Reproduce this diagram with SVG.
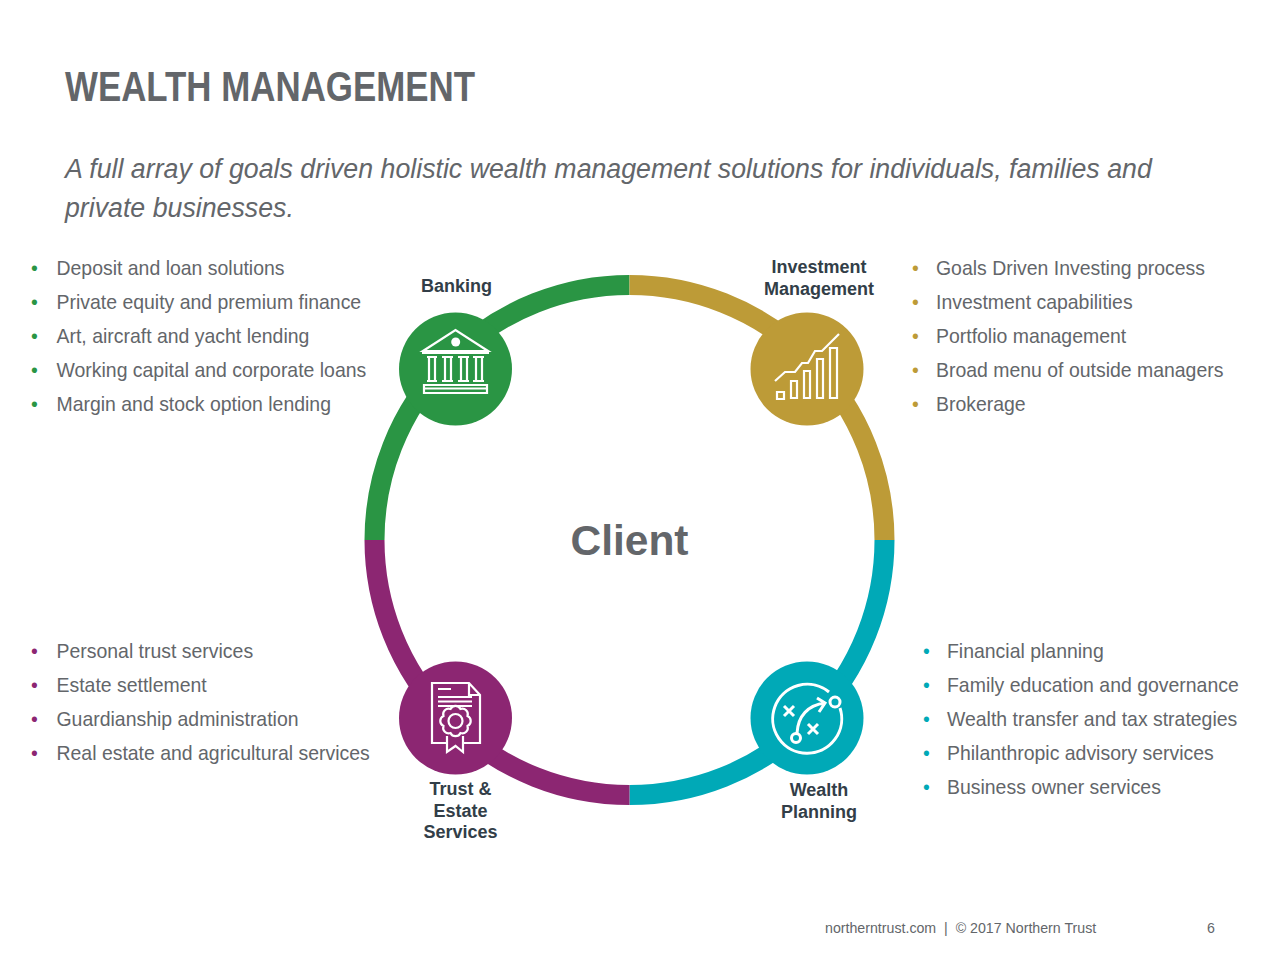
<svg xmlns="http://www.w3.org/2000/svg" width="1280" height="960" viewBox="0 0 1280 960">
<style>
text{font-family:"Liberation Sans",Arial,sans-serif;fill:#63666a}
.b text{font-size:19.45px}
.l{font-size:18px;font-weight:bold;fill:#323e48;text-anchor:middle}
.ring{fill:none;stroke-width:20}
.i{fill:none;stroke:#fff;stroke-width:2.2}
.i2{fill:none;stroke:#fff;stroke-width:3}
.f{font-size:14.2px}
</style>
<rect width="1280" height="960" fill="#fff"/>
<text id="title" x="65" y="101" font-size="43" font-weight="bold" textLength="410" lengthAdjust="spacingAndGlyphs">WEALTH MANAGEMENT</text>
<text x="65" y="178" font-size="26.74" font-style="italic">A full array of goals driven holistic wealth management solutions for individuals, families and</text>
<text x="65" y="217" font-size="26.74" font-style="italic">private businesses.</text>
<g id="connectors">
<path class="ring" stroke="#2a9544" d="M374.5 540A255 255 0 0 1 629.5 285"/>
<path class="ring" stroke="#bd9b37" d="M629.5 285A255 255 0 0 1 884.5 540"/>
<path class="ring" stroke="#00a9b7" d="M884.5 540A255 255 0 0 1 629.5 795"/>
<path class="ring" stroke="#8c2672" d="M629.5 795A255 255 0 0 1 374.5 540"/>
</g>
<g id="banking">
<circle cx="455.5" cy="369" r="56.5" fill="#2a9544"/>
<path class="i" d="M423 351L455.5 330L488 351ZM422 353H489M427 357H437M442 357H453M458 357H469M473 357H484M427 381H437M442 381H453M458 381H469M473 381H484M429 358V380M435 358V380M445 358V380M451 358V380M461 358V380M467 358V380M476 358V380M482 358V380M424 385H487V393H424ZM424 388.500H487"/>
<circle cx="455.7" cy="342" r="4.5" fill="#fff"/>
<text class="l" x="456.5" y="292">Banking</text>
</g>
<g id="investment">
<circle cx="807" cy="369" r="56.5" fill="#bd9b37"/>
<path class="i" d="M775 381L785 372H795L802 363H808L815 351H822L839 334M777 392H784V399H777ZM791 381H797V398H791ZM804 371H810V398H804ZM817 359H823V398H817ZM830 348H837V398H830Z"/>
<text class="l" x="819" y="273">Investment</text>
<text class="l" x="819" y="295">Management</text>
</g>
<g id="trust">
<circle cx="455.5" cy="718" r="56.5" fill="#8c2672"/>
<path class="i" d="M447 743H432V683H469L480 695V743H463M469 683V695H480M438 689H451M438 697H472M438 701.500H472M438 706H472"/>
<path class="i" transform="translate(455.5 721)" d="M5 -12A5.500 5.500 0 0 1 12 -5A5.500 5.500 0 0 1 12 5A5.500 5.500 0 0 1 5 12A5.500 5.500 0 0 1 -5 12A5.500 5.500 0 0 1 -12 5A5.500 5.500 0 0 1 -12 -5A5.500 5.500 0 0 1 -5 -12A5.500 5.500 0 0 1 5 -12Z"/>
<circle class="i" cx="455.5" cy="721" r="7"/>
<path class="i" d="M447 736V752L455.500 746L463 752V736"/>
<text class="l" x="460.5" y="795">Trust &amp;</text>
<text class="l" x="460.5" y="817">Estate</text>
<text class="l" x="460.5" y="838">Services</text>
</g>
<g id="wealth">
<circle cx="807" cy="718" r="56.5" fill="#00a9b7"/>
<path class="i2" d="M829 692A34.500 34.500 0 1 0 840 708M797 733C798 716 808 705 825 703M817 698L825 703L819 712M784 706L794 716M794 706L784 716M808 724L818 734M818 724L808 734"/>
<circle class="i2" cx="835" cy="702" r="5"/>
<circle class="i2" cx="796" cy="738" r="4.5"/>
<text class="l" x="819" y="796">Wealth</text>
<text class="l" x="819" y="818">Planning</text>
</g>
<text x="629.5" y="555" font-size="42.5" font-weight="bold" text-anchor="middle">Client</text>
<g id="list-banking" class="b">
<text x="31" y="275" style="fill:#2a9544">•</text><text x="56.5" y="275">Deposit and loan solutions</text>
<text x="31" y="309" style="fill:#2a9544">•</text><text x="56.5" y="309">Private equity and premium finance</text>
<text x="31" y="343" style="fill:#2a9544">•</text><text x="56.5" y="343">Art, aircraft and yacht lending</text>
<text x="31" y="377" style="fill:#2a9544">•</text><text x="56.5" y="377">Working capital and corporate loans</text>
<text x="31" y="411" style="fill:#2a9544">•</text><text x="56.5" y="411">Margin and stock option lending</text>
</g>
<g id="list-investment" class="b">
<text x="912" y="275" style="fill:#bd9b37">•</text><text x="936" y="275">Goals Driven Investing process</text>
<text x="912" y="309" style="fill:#bd9b37">•</text><text x="936" y="309">Investment capabilities</text>
<text x="912" y="343" style="fill:#bd9b37">•</text><text x="936" y="343">Portfolio management</text>
<text x="912" y="377" style="fill:#bd9b37">•</text><text x="936" y="377">Broad menu of outside managers</text>
<text x="912" y="411" style="fill:#bd9b37">•</text><text x="936" y="411">Brokerage</text>
</g>
<g id="list-trust" class="b">
<text x="31" y="658" style="fill:#8c2672">•</text><text x="56.5" y="658">Personal trust services</text>
<text x="31" y="692" style="fill:#8c2672">•</text><text x="56.5" y="692">Estate settlement</text>
<text x="31" y="726" style="fill:#8c2672">•</text><text x="56.5" y="726">Guardianship administration</text>
<text x="31" y="760" style="fill:#8c2672">•</text><text x="56.5" y="760">Real estate and agricultural services</text>
</g>
<g id="list-wealth" class="b">
<text x="923" y="658" style="fill:#00a9b7">•</text><text x="947" y="658">Financial planning</text>
<text x="923" y="692" style="fill:#00a9b7">•</text><text x="947" y="692">Family education and governance</text>
<text x="923" y="726" style="fill:#00a9b7">•</text><text x="947" y="726">Wealth transfer and tax strategies</text>
<text x="923" y="760" style="fill:#00a9b7">•</text><text x="947" y="760">Philanthropic advisory services</text>
<text x="923" y="794" style="fill:#00a9b7">•</text><text x="947" y="794">Business owner services</text>
</g>
<text class="f" x="825" y="933" xml:space="preserve">northerntrust.com  |  © 2017 Northern Trust</text>
<text class="f" x="1207" y="933">6</text>
</svg>
